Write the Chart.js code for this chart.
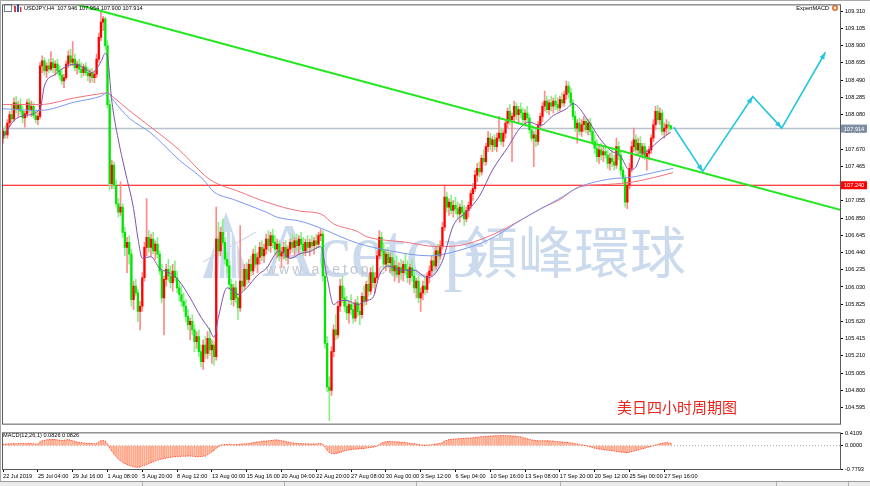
<!DOCTYPE html>
<html>
<head>
<meta charset="utf-8">
<script src="https://cdn.jsdelivr.net/npm/chart.js@4.4.1/dist/chart.umd.min.js"></script>
<style>
  body { margin: 0; background: #fff; }
  #wrap { position: relative; width: 870px; height: 486px; overflow: hidden; background: #fff; }
  #main { position: absolute; left: 0; top: 0; }
  #macd { position: absolute; left: 0; top: 428px; }
  #frameTop { position: absolute; left: 0; top: 0; width: 870px; height: 1px; background: #a8a8a8; }
  #frameLeft { position: absolute; left: 0; top: 0; width: 1px; height: 481px; background: #a8a8a8; }
  #tabs { position: absolute; left: 0; top: 481px; width: 870px; height: 5px; background: #ececec; border-top: 1px solid #9a9a9a; }
  #tabs span { position: absolute; top: 0; width: 1px; height: 5px; background: #b0b0b0; }
</style>
</head>
<body>
<div id="wrap">
  <canvas id="main" width="870" height="429"></canvas>
  <canvas id="macd" width="870" height="58"></canvas>
  <div id="frameTop"></div>
  <div id="frameLeft"></div>
  <div id="tabs"><span style="left:142px"></span><span style="left:284px"></span><span style="left:416px"></span><span style="left:560px"></span><span style="left:776px"></span><span style="left:848px"></span></div>
</div>
<script>
// USDJPY H4, 22 Jul - 27 Sep 2019, one value per 4h bar
const opens = [
  107.80,107.88,107.84,107.98,108.08,108.03,108.22,108.14,108.20,108.12,
  108.04,108.09,108.22,108.14,108.18,108.07,108.02,108.06,108.66,108.72,
  108.60,108.66,108.62,108.70,108.64,108.68,108.60,108.55,108.48,108.52,
  108.68,108.78,108.70,108.74,108.64,108.68,108.62,108.58,108.65,108.58,
  108.54,108.57,108.52,108.56,108.74,109.00,109.18,109.22,108.90,108.20,
  107.26,107.48,107.24,107.02,106.92,106.98,106.68,106.50,106.56,106.42,
  105.88,106.04,105.96,105.74,105.80,106.14,106.50,106.62,106.50,106.60,
  106.46,106.54,106.42,106.22,105.90,106.12,106.24,106.16,106.08,106.22,
  106.14,106.02,105.94,105.86,105.80,105.68,105.58,105.62,105.52,105.38,
  105.44,105.26,105.14,105.34,105.24,105.42,105.28,105.34,105.20,106.60,
  106.46,106.68,106.56,106.36,106.28,106.06,105.88,106.02,105.90,105.78,
  106.10,106.04,106.24,106.12,106.30,106.22,106.42,106.30,106.38,106.50,
  106.40,106.48,106.60,106.52,106.64,106.56,106.48,106.54,106.40,106.44,
  106.50,106.38,106.48,106.56,106.50,106.58,106.52,106.60,106.54,106.46,
  106.56,106.50,106.56,106.52,106.58,106.54,106.64,106.66,106.16,105.36,
  104.84,104.80,105.26,105.52,105.46,105.80,106.04,105.90,105.80,105.72,
  105.82,105.76,105.66,105.84,105.74,105.70,105.92,105.86,106.06,105.98,
  106.20,106.08,106.14,106.40,106.62,106.46,106.30,106.42,106.32,106.38,
  106.22,106.28,106.18,106.26,106.20,106.30,106.24,106.14,106.26,106.16,
  106.02,106.10,105.90,105.96,106.04,106.00,106.16,106.22,106.34,106.28,
  106.46,106.40,106.52,106.74,107.10,106.98,107.04,106.94,107.00,106.96,
  106.90,106.98,106.92,106.84,106.94,107.00,107.14,107.20,107.36,107.44,
  107.40,107.56,107.52,107.70,107.80,107.72,107.78,107.70,107.80,107.86,
  107.76,107.86,107.98,108.12,108.02,108.06,108.18,108.08,108.14,108.10,
  108.02,108.10,108.04,107.90,107.80,107.84,107.76,107.96,108.06,108.18,
  108.24,108.14,108.22,108.18,108.24,108.20,108.16,108.26,108.22,108.32,
  108.42,108.34,108.22,108.06,107.92,107.98,107.88,107.96,108.00,107.90,
  107.98,107.88,107.76,107.68,107.58,107.66,107.60,107.64,107.60,107.50,
  107.56,107.52,107.48,107.70,107.60,107.42,107.32,107.04,107.24,107.44,
  107.70,107.78,107.66,107.74,107.62,107.70,107.58,107.62,107.66,107.80,
  107.96,108.12,108.02,108.10,107.88,107.92,107.96,107.946
];
const highs = [
  107.92,107.95,108.02,108.12,108.20,108.28,108.30,108.24,108.27,108.18,
  108.12,108.26,108.27,108.24,108.22,108.12,108.10,108.70,108.78,108.76,
  108.70,108.74,108.83,108.75,108.72,108.74,108.66,108.62,108.56,108.72,
  108.84,108.86,108.95,108.80,108.72,108.74,108.70,108.68,108.70,108.64,
  108.62,108.63,108.60,108.80,109.05,109.31,109.25,109.24,108.96,108.26,
  107.54,107.52,107.30,107.08,107.28,107.02,106.74,106.62,106.64,106.48,
  106.10,106.12,106.00,105.86,106.20,106.56,107.08,106.70,106.66,106.68,
  106.58,106.62,106.46,106.30,106.16,106.30,106.36,106.28,106.30,106.34,
  106.22,106.10,106.04,105.96,105.88,105.76,105.66,105.70,105.58,105.50,
  105.52,105.34,105.40,105.44,105.50,105.54,105.40,105.38,106.98,106.80,
  106.74,106.84,106.62,106.44,106.34,106.12,106.06,106.10,105.96,106.76,
  106.24,106.30,106.32,106.36,106.40,106.48,106.52,106.44,106.56,106.58,
  106.54,106.66,106.70,106.68,106.72,106.64,106.60,106.58,106.50,106.56,
  106.58,106.52,106.60,106.66,106.62,106.66,106.64,106.68,106.62,106.60,
  106.64,106.60,106.64,106.62,106.66,106.68,106.72,106.70,106.20,105.44,
  104.96,105.32,105.58,105.70,105.86,106.12,106.16,106.02,105.92,105.86,
  105.94,105.84,105.88,105.92,105.82,105.96,106.04,106.10,106.16,106.26,
  106.28,106.20,106.46,106.70,106.68,106.56,106.48,106.50,106.44,106.44,
  106.34,106.40,106.32,106.36,106.34,106.42,106.34,106.30,106.36,106.24,
  106.14,106.16,106.02,106.10,106.14,106.20,106.28,106.40,106.44,106.50,
  106.54,106.58,106.80,107.23,107.16,107.08,107.12,107.06,107.10,107.04,
  107.02,107.06,107.00,106.98,107.04,107.18,107.26,107.42,107.50,107.52,
  107.60,107.66,107.74,107.88,107.86,107.82,107.84,107.86,108.06,107.92,
  107.90,108.02,108.16,108.20,108.10,108.24,108.22,108.18,108.22,108.16,
  108.14,108.18,108.08,107.96,107.88,107.92,108.00,108.10,108.22,108.36,
  108.30,108.26,108.30,108.28,108.32,108.28,108.30,108.34,108.36,108.48,
  108.47,108.40,108.26,108.12,108.02,108.04,108.02,108.06,108.04,108.02,
  108.04,107.92,107.84,107.78,107.72,107.74,107.70,107.72,107.66,107.62,
  107.66,107.60,107.80,107.76,107.64,107.46,107.36,107.28,107.50,107.76,
  107.92,107.84,107.80,107.82,107.74,107.74,107.66,107.70,107.84,108.02,
  108.18,108.19,108.16,108.14,107.98,108.02,108.00,107.954
];
const lows = [
  107.74,107.80,107.80,107.94,107.99,108.00,108.10,108.06,108.08,107.98,
  107.93,108.05,108.10,108.06,108.04,107.98,107.96,108.03,108.58,108.55,
  108.52,108.58,108.60,108.58,108.55,108.56,108.50,108.44,108.40,108.50,
  108.64,108.66,108.66,108.60,108.56,108.58,108.52,108.54,108.55,108.48,
  108.46,108.47,108.46,108.52,108.70,108.96,109.08,108.86,108.16,107.18,
  107.20,107.20,106.98,106.86,106.88,106.62,106.40,106.20,106.30,105.80,
  105.76,105.92,105.62,105.52,105.74,106.10,106.40,106.44,106.40,106.42,
  106.36,106.38,106.18,105.84,105.46,106.04,106.10,106.02,105.98,106.10,
  105.96,105.86,105.80,105.74,105.62,105.52,105.40,105.46,105.26,105.30,
  105.20,105.08,105.05,105.18,105.18,105.22,105.12,105.10,105.16,106.40,
  106.40,106.52,106.30,106.20,106.00,105.82,105.80,105.84,105.64,105.74,
  105.98,106.00,106.06,106.08,106.16,106.18,106.26,106.20,106.30,106.34,
  106.32,106.42,106.46,106.44,106.50,106.42,106.38,106.34,106.26,106.36,
  106.34,106.30,106.42,106.44,106.40,106.46,106.42,106.48,106.40,106.40,
  106.44,106.40,106.46,106.42,106.48,106.50,106.58,106.10,105.30,104.78,
  104.44,104.74,105.20,105.40,105.42,105.74,105.84,105.74,105.64,105.60,
  105.70,105.60,105.62,105.68,105.58,105.66,105.80,105.82,105.92,105.94,
  106.02,105.96,106.10,106.36,106.40,106.24,106.22,106.26,106.20,106.16,
  106.10,106.14,106.08,106.12,106.10,106.18,106.08,106.06,106.10,105.96,
  105.90,105.84,105.74,105.88,105.94,105.96,106.08,106.16,106.22,106.24,
  106.32,106.36,106.48,106.70,106.92,106.88,106.90,106.86,106.90,106.84,
  106.80,106.86,106.76,106.80,106.86,106.96,107.06,107.16,107.28,107.34,
  107.36,107.48,107.48,107.64,107.66,107.64,107.66,107.64,107.76,107.72,
  107.70,107.80,107.92,107.96,107.52,108.00,108.02,107.98,108.04,107.98,
  107.96,108.00,107.86,107.76,107.46,107.70,107.72,107.90,108.00,108.12,
  108.10,108.08,108.12,108.10,108.14,108.12,108.12,108.18,108.18,108.26,
  108.28,108.18,108.02,107.88,107.74,107.84,107.82,107.88,107.86,107.84,
  107.84,107.72,107.62,107.52,107.50,107.54,107.52,107.56,107.44,107.42,
  107.46,107.42,107.44,107.54,107.36,107.26,106.98,106.96,107.20,107.40,
  107.64,107.60,107.60,107.58,107.56,107.54,107.42,107.54,107.62,107.76,
  107.90,107.98,107.96,107.84,107.80,107.84,107.86,107.900
];
const closes = [
  107.88,107.84,107.98,108.08,108.03,108.22,108.14,108.20,108.12,108.04,
  108.09,108.22,108.14,108.18,108.07,108.02,108.06,108.66,108.72,108.60,
  108.66,108.62,108.70,108.64,108.68,108.60,108.55,108.48,108.52,108.68,
  108.78,108.70,108.74,108.64,108.68,108.62,108.58,108.65,108.58,108.54,
  108.57,108.52,108.56,108.74,109.00,109.18,109.22,108.90,108.20,107.26,
  107.48,107.24,107.02,106.92,106.98,106.68,106.50,106.56,106.42,105.88,
  106.04,105.96,105.74,105.80,106.14,106.50,106.62,106.50,106.60,106.46,
  106.54,106.42,106.22,105.90,106.12,106.24,106.16,106.08,106.22,106.14,
  106.02,105.94,105.86,105.80,105.68,105.58,105.62,105.52,105.38,105.44,
  105.26,105.14,105.34,105.24,105.42,105.28,105.34,105.20,106.60,106.46,
  106.68,106.56,106.36,106.28,106.06,105.88,106.02,105.90,105.78,106.10,
  106.04,106.24,106.12,106.30,106.22,106.42,106.30,106.38,106.50,106.40,
  106.48,106.60,106.52,106.64,106.56,106.48,106.54,106.40,106.44,106.50,
  106.38,106.48,106.56,106.50,106.58,106.52,106.60,106.54,106.46,106.56,
  106.50,106.56,106.52,106.58,106.54,106.64,106.66,106.16,105.36,104.84,
  104.80,105.26,105.52,105.46,105.80,106.04,105.90,105.80,105.72,105.82,
  105.76,105.66,105.84,105.74,105.70,105.92,105.86,106.06,105.98,106.20,
  106.08,106.14,106.40,106.62,106.46,106.30,106.42,106.32,106.38,106.22,
  106.28,106.18,106.26,106.20,106.30,106.24,106.14,106.26,106.16,106.02,
  106.10,105.90,105.96,106.04,106.00,106.16,106.22,106.34,106.28,106.46,
  106.40,106.52,106.74,107.10,106.98,107.04,106.94,107.00,106.96,106.90,
  106.98,106.92,106.84,106.94,107.00,107.14,107.20,107.36,107.44,107.40,
  107.56,107.52,107.70,107.80,107.72,107.78,107.70,107.80,107.86,107.76,
  107.86,107.98,108.12,108.02,108.06,108.18,108.08,108.14,108.10,108.02,
  108.10,108.04,107.90,107.80,107.84,107.76,107.96,108.06,108.18,108.24,
  108.14,108.22,108.18,108.24,108.20,108.16,108.26,108.22,108.32,108.42,
  108.34,108.22,108.06,107.92,107.98,107.88,107.96,108.00,107.90,107.98,
  107.88,107.76,107.68,107.58,107.66,107.60,107.64,107.60,107.50,107.56,
  107.52,107.48,107.70,107.60,107.42,107.32,107.04,107.24,107.44,107.70,
  107.78,107.66,107.74,107.62,107.70,107.58,107.62,107.66,107.80,107.96,
  108.12,108.02,108.10,107.88,107.92,107.96,107.946,107.914
];

// MACD(12,26,1) histogram, one value per bar
const macdVals = [
  0.04,0.05,0.05,0.06,0.06,0.07,0.06,0.07,0.08,0.07,0.06,0.07,0.08,0.07,0.06,0.05,0.06,
  0.12,0.16,0.18,0.19,0.2,0.2,0.21,0.2,0.19,0.18,0.17,0.18,0.19,0.2,0.18,0.16,0.14,
  0.12,0.11,0.1,0.09,0.08,0.08,0.07,0.07,0.06,0.08,0.12,0.16,0.17,0.15,
  0.05,-0.08,-0.18,-0.28,-0.36,-0.44,-0.5,-0.55,-0.6,-0.63,-0.66,-0.68,-0.7,-0.72,-0.72,
  -0.71,-0.68,-0.66,-0.63,-0.6,-0.57,-0.54,-0.51,-0.48,-0.46,-0.44,-0.43,-0.41,-0.4,-0.39,
  -0.38,-0.37,-0.36,-0.36,-0.35,-0.35,-0.35,-0.34,-0.34,-0.35,-0.36,-0.37,-0.37,-0.36,-0.35,-0.34,-0.3,-0.25,
  -0.2,-0.16,-0.08,-0.03,0.01,
  0.03,0.04,0.04,0.05,0.04,0.03,0.03,0.04,0.05,0.05,0.06,0.06,0.07,
  0.08,0.1,0.11,0.12,0.13,0.14,0.15,0.15,0.16,0.17,0.18,0.19,0.19,0.18,0.16,0.15,0.14,0.12,
  0.1,0.09,0.08,0.08,0.07,0.07,0.06,0.06,0.06,0.05,0.05,0.05,0.06,0.07,0.07,0.04,
  -0.05,-0.15,-0.22,-0.26,-0.27,-0.26,-0.24,-0.22,-0.2,-0.17,
  -0.15,-0.14,-0.13,-0.12,-0.12,-0.11,-0.1,-0.1,-0.09,-0.08,-0.07,-0.06,-0.05,-0.03,-0.01,
  0.04,0.08,0.11,0.13,0.14,0.14,0.13,0.13,0.12,0.12,0.11,0.11,0.1,0.09,0.08,
  0.07,0.06,0.05,0.04,0.02,0.01,0.01,0.02,0.02,0.03,
  0.04,0.05,0.06,0.07,0.1,0.15,
  0.18,0.2,0.21,0.22,0.22,0.23,0.23,
  0.24,0.24,0.25,0.25,0.25,0.26,0.27,0.28,0.29,0.3,0.3,0.31,0.31,0.32,
  0.32,0.33,0.33,0.33,0.34,0.34,0.34,0.33,0.33,0.32,0.32,0.31,0.3,0.29,0.27,0.25,0.23,0.21,
  0.19,0.18,0.17,0.16,0.16,0.16,0.16,0.16,0.16,0.15,0.15,0.14,0.14,0.13,
  0.12,0.11,0.11,0.1,0.09,0.08,0.06,0.05,0.03,0.02,0.01,0,-0.02,-0.04,
  -0.06,-0.08,-0.1,-0.11,-0.12,-0.13,-0.14,-0.15,-0.16,-0.17,-0.18,-0.19,-0.2,
  -0.21,-0.22,-0.23,-0.23,-0.22,-0.2,-0.18,-0.16,-0.14,
  -0.12,-0.1,-0.08,-0.06,-0.04,-0.02,0.0,0.02,0.04,0.06,
  0.08,0.09,0.1,0.09,0.08
];

// moving averages (bar index, price)
const maFastX = [0,5,10,17,19,24,28,33,38,41,45,47,48,50,53,56,60,62,64,68,72,77,81,86,91,95,97,99,103,106,
  108,112,117,121,127,132,137,141,146,149,152,155,158,163,167,170,173,177,183,189,195,198,202,207,213,219,225,232,238,242,
  247,253,259,262,269,274,279,284,288,291,293,297,302,307];
const maFastY = [107.81,108.01,108.07,108.15,108.42,108.56,108.64,108.68,108.62,108.58,108.71,108.81,108.77,108.24,107.78,107.42,106.96,106.61,106.37,106.39,
  106.25,106.19,106.10,105.90,105.67,105.52,105.43,105.67,106.02,105.98,105.94,106.02,106.17,106.25,106.46,106.37,106.43,106.45,106.51,106.14,
  105.82,105.87,105.87,105.82,105.87,105.90,106.17,106.28,106.23,106.23,106.14,106.17,106.34,106.76,106.92,107.11,107.42,107.69,107.93,107.99,
  107.95,108.07,108.15,108.21,108.01,107.81,107.66,107.58,107.42,107.46,107.58,107.66,107.78,107.87];
const maRedX = [0,17,33,45,48,51,58,68,81,95,109,121,137,146,152,163,167,178,183,200,209,224,239,247,256,265,278,290,299,308];
const maRedY = [108.20,108.20,108.28,108.33,108.34,108.28,108.13,107.93,107.66,107.31,107.16,107.04,106.93,106.90,106.78,
  106.69,106.63,106.58,106.57,106.51,106.52,106.64,106.84,106.96,107.07,107.22,107.25,107.28,107.33,107.39];
const maBlueX = [0,17,33,45,48,51,58,68,81,92,97,106,121,126,137,147,155,163,178,196,206,224,239,255,265,278,290,299,308];
const maBlueY = [108.15,108.13,108.23,108.30,108.34,108.24,108.04,107.86,107.54,107.31,107.16,107.07,106.92,106.86,106.81,
  106.72,106.63,106.55,106.46,106.40,106.44,106.60,106.84,107.07,107.22,107.31,107.34,107.39,107.44];

// drawn objects
const trendX = [34.0, 385.3];
const trendY = [109.39, 106.945];
const arrowX = [308.4, 321.7, 344.7, 358.0, 378.1];
const arrowY = [107.93, 107.405, 108.295, 107.92, 108.822];
const redLevel = 107.240;
const bidPrice = 107.914;

// axes
const timeLabels = ['22 Jul 2019','25 Jul 04:00','29 Jul 16:00','1 Aug 08:00','5 Aug 20:00','8 Aug 12:00','13 Aug 00:00',
  '15 Aug 16:00','20 Aug 04:00','22 Aug 20:00','27 Aug 08:00','30 Aug 00:00','3 Sep 12:00','6 Sep 04:00','10 Sep 16:00',
  '13 Sep 08:00','17 Sep 20:00','20 Sep 12:00','25 Sep 00:00','27 Sep 16:00'];
const barsPerLabel = 16;
const priceTicks = [104.595,104.800,105.005,105.210,105.415,105.620,105.825,106.030,106.235,106.440,106.645,106.850,
  107.055,107.465,107.670,107.875,108.080,108.285,108.490,108.695,108.900,109.105,109.310];
const macdTicks = [-0.7793, 0, 0.4109];

const FONT = 'Liberation Sans, Arial, sans-serif';
const tiny = { family: FONT, size: 5.6 };
const X_MIN = -0.5, X_MAX = 384.8;

const pts = (xs, ys) => xs.map((x, i) => ({ x: x, y: ys[i] }));
const upColor = '#ff0000', downColor = '#00e600';

const frame = {
  id: 'frame',
  afterDraw(chart) {
    const a = chart.chartArea, ctx = chart.ctx;
    ctx.save();
    ctx.strokeStyle = '#5a5a5a';
    ctx.lineWidth = 1;
    ctx.strokeRect(a.left + 0.5, a.top - 0.5, a.right - a.left, a.bottom - a.top + 1);
    ctx.restore();
  }
};

const watermark = {
  id: 'watermark',
  beforeDatasetsDraw(chart) {
    const ctx = chart.ctx;
    ctx.save();
    ctx.fillStyle = '#cbdbed';
    // logo
    ctx.beginPath();
    ctx.moveTo(226, 212); ctx.lineTo(203, 278); ctx.lineTo(249, 278); ctx.closePath();
    ctx.fill();
    ctx.strokeStyle = '#ffffff';
    ctx.lineWidth = 1.5;
    for (let k = 0; k < 5; k++) {
      ctx.beginPath(); ctx.moveTo(216 + k * 5, 232); ctx.lineTo(213 + k * 6, 278); ctx.stroke();
    }
    ctx.strokeStyle = '#cbdbed';
    ctx.lineWidth = 1.2;
    ctx.beginPath(); ctx.moveTo(203, 262); ctx.lineTo(256, 232); ctx.stroke();
    ctx.font = '76px "Liberation Serif", serif';
    ctx.textBaseline = 'alphabetic';
    ctx.fillText('Acetop', 262, 276);
    ctx.font = '56px "Noto Sans CJK TC", sans-serif';
    ctx.fillText('領峰環球', 462, 273);
    ctx.fillStyle = '#c0c7cf';
    ctx.font = '14px ' + FONT;
    ctx.letterSpacing = '3px';
    ctx.fillText('www.acetop.com', 266, 274);
    ctx.restore();
  }
};

const annotations = {
  id: 'annotations',
  afterDatasetsDraw(chart) {
    const ctx = chart.ctx, sx = chart.scales.x, sy = chart.scales.y;
    ctx.save();
    ctx.fillStyle = '#22c7dc';
    for (let k = 1; k < arrowX.length; k++) {
      const x0 = sx.getPixelForValue(arrowX[k - 1]), y0 = sy.getPixelForValue(arrowY[k - 1]);
      const x1 = sx.getPixelForValue(arrowX[k]), y1 = sy.getPixelForValue(arrowY[k]);
      const a = Math.atan2(y1 - y0, x1 - x0), L = 7, W = 2.6;
      ctx.beginPath();
      ctx.moveTo(x1, y1);
      ctx.lineTo(x1 - L * Math.cos(a) + W * Math.sin(a), y1 - L * Math.sin(a) - W * Math.cos(a));
      ctx.lineTo(x1 - L * Math.cos(a) - W * Math.sin(a), y1 - L * Math.sin(a) + W * Math.cos(a));
      ctx.closePath();
      ctx.fill();
    }
    ctx.restore();
  },
  afterDraw(chart) {
    const ctx = chart.ctx, sy = chart.scales.y, right = chart.chartArea.right;
    ctx.save();
    // price boxes on the axis
    const box = (v, bg) => {
      const y = sy.getPixelForValue(v);
      ctx.fillStyle = bg;
      ctx.fillRect(right + 1, y - 4, 26, 8);
      ctx.fillStyle = '#ffffff';
      ctx.font = '5.6px ' + FONT;
      ctx.textBaseline = 'middle';
      ctx.textAlign = 'left';
      ctx.fillText(v.toFixed(3), right + 4, y + 0.5);
    };
    box(bidPrice, '#7d8da3');
    box(redLevel, '#ff0000');
    // header
    ctx.fillStyle = '#000';
    ctx.font = '5.6px ' + FONT;
    ctx.textBaseline = 'middle';
    ctx.fillText('USDJPY,H4  ' + opens[opens.length - 1].toFixed(3) + ' ' + highs[highs.length - 1].toFixed(3) + ' ' +
      lows[lows.length - 1].toFixed(3) + ' ' + closes[closes.length - 1].toFixed(3), 24, 8);
    ctx.textAlign = 'right';
    ctx.fillText('ExpertMACD', 829, 8);
    ctx.fillStyle = '#e86a1a';
    ctx.beginPath(); ctx.arc(835, 8, 3, 0, Math.PI * 2); ctx.fill();
    ctx.fillStyle = '#ffffff';
    ctx.beginPath(); ctx.arc(835, 8, 1.4, 0, Math.PI * 2); ctx.fill();
    // icons
    ctx.strokeStyle = '#6f7fa0'; ctx.lineWidth = 1;
    ctx.strokeRect(4.5, 4.5, 7, 7);
    ctx.fillStyle = '#d04040'; ctx.fillRect(14, 6, 2, 6);
    ctx.fillStyle = '#3050c0'; ctx.fillRect(17, 4, 2, 8);
    ctx.fillStyle = '#d04040'; ctx.fillRect(20, 7, 1.5, 5);
    // caption
    ctx.textAlign = 'left';
    ctx.fillStyle = '#e8261c';
    ctx.font = '15px "Noto Sans CJK SC", sans-serif';
    ctx.fillText('美日四小时周期图', 617, 407);
    ctx.restore();
  }
};

const candleIdx = closes.map((c, i) => i);

new Chart(document.getElementById('main'), {
  type: 'bar',
  data: {
    datasets: [
      { type: 'line', data: pts([X_MIN, X_MAX], [bidPrice, bidPrice]), borderColor: '#b9c1cc', borderWidth: 1.5,
        pointRadius: 0, order: 10 },
      { type: 'line', data: pts([X_MIN, X_MAX], [redLevel, redLevel]), borderColor: '#ff0000', borderWidth: 1.2,
        pointRadius: 0, order: 9 },
      { type: 'bar', data: candleIdx.map(i => ({ x: i, y: [lows[i], highs[i]] })),
        backgroundColor: candleIdx.map(i => closes[i] >= opens[i] ? '#ff8a8a' : '#8af08a'),
        barThickness: 1, grouped: false, order: 8 },
      { type: 'bar', data: candleIdx.map(i => ({ x: i, y: [opens[i], closes[i]] })),
        backgroundColor: candleIdx.map(i => closes[i] >= opens[i] ? upColor : downColor),
        barThickness: 1.6, minBarLength: 1, grouped: false, order: 7 },
      { type: 'line', data: pts(maRedX, maRedY), borderColor: '#f0707c', borderWidth: 1, pointRadius: 0,
        cubicInterpolationMode: 'monotone', order: 6 },
      { type: 'line', data: pts(maBlueX, maBlueY), borderColor: '#7b97ee', borderWidth: 1, pointRadius: 0,
        cubicInterpolationMode: 'monotone', order: 5 },
      { type: 'line', data: pts(maFastX, maFastY), borderColor: '#7d52a8', borderWidth: 1, pointRadius: 0,
        cubicInterpolationMode: 'monotone', order: 4 },
      { type: 'line', data: pts(trendX, trendY), borderColor: '#22e61e', borderWidth: 2, pointRadius: 0, order: 2 },
      { type: 'line', data: pts(arrowX, arrowY), borderColor: '#22c7dc', borderWidth: 1.6, pointRadius: 0, order: 1 }
    ]
  },
  options: {
    responsive: false, animation: false, devicePixelRatio: 1,
    layout: { padding: { left: 2, top: 3, right: 0, bottom: 1 } },
    plugins: { legend: { display: false }, tooltip: { enabled: false } },
    scales: {
      x: { type: 'linear', display: false, min: X_MIN, max: X_MAX, offset: false },
      y: {
        position: 'right', min: 104.404, max: 109.38,
        afterBuildTicks: s => { s.ticks = priceTicks.map(v => ({ value: v })); },
        afterFit: s => { s.width = 30; },
        ticks: { font: tiny, color: '#000', padding: 2, autoSkip: false, callback: v => v.toFixed(3) },
        grid: { drawOnChartArea: false, tickLength: 3, color: '#000' },
        border: { color: '#3a3a3a' }
      }
    }
  },
  plugins: [watermark, annotations, frame]
});

const macdLabel = {
  id: 'macdLabel',
  afterDraw(chart) {
    const ctx = chart.ctx;
    ctx.save();
    ctx.fillStyle = '#000';
    ctx.font = '5.6px ' + FONT;
    ctx.textBaseline = 'middle';
    const last = macdVals[macdVals.length - 1] + 0.0026;
    ctx.fillText('MACD(12,26,1) ' + last.toFixed(4) + ' ' + last.toFixed(4), 3, 7);
    ctx.restore();
  }
};

new Chart(document.getElementById('macd'), {
  type: 'bar',
  data: {
    datasets: [
      { type: 'line', data: pts([X_MIN, X_MAX], [0, 0]), borderColor: '#a8b0bc', borderWidth: 1, borderDash: [1, 2],
        pointRadius: 0, order: 3 },
      { type: 'bar', data: macdVals.map((v, i) => ({ x: i, y: v })), backgroundColor: '#ffa98c',
        barThickness: 1.3, grouped: false, order: 2 },
      { type: 'line', data: macdVals.map((v, i) => ({ x: i, y: v })), borderColor: '#ff3a24', borderWidth: 1,
        borderDash: [1, 1.5], pointRadius: 0, order: 1 }
    ]
  },
  options: {
    responsive: false, animation: false, devicePixelRatio: 1,
    layout: { padding: { left: 2, top: 3, right: 0, bottom: 0 } },
    plugins: { legend: { display: false }, tooltip: { enabled: false } },
    scales: {
      x: {
        type: 'linear', min: X_MIN, max: X_MAX, offset: false,
        afterBuildTicks: s => { s.ticks = timeLabels.map((t, k) => ({ value: k * barsPerLabel })); },
        afterFit: s => { s.height = 17; },
        ticks: { font: tiny, color: '#000', align: 'start', padding: 1, maxRotation: 0, minRotation: 0, autoSkip: false,
          callback: (v, i) => timeLabels[i] },
        grid: { drawOnChartArea: false, tickLength: 3, color: '#000', offset: false },
        border: { color: '#3a3a3a' }
      },
      y: {
        position: 'right', min: -0.7793, max: 0.4109,
        afterBuildTicks: s => { s.ticks = macdTicks.map(v => ({ value: v })); },
        afterFit: s => { s.width = 30; },
        ticks: { font: tiny, color: '#000', padding: 2, autoSkip: false, callback: v => v.toFixed(4) },
        grid: { drawOnChartArea: false, tickLength: 3, color: '#000' },
        border: { color: '#3a3a3a' }
      }
    }
  },
  plugins: [macdLabel, frame]
});
</script>
</body>
</html>
